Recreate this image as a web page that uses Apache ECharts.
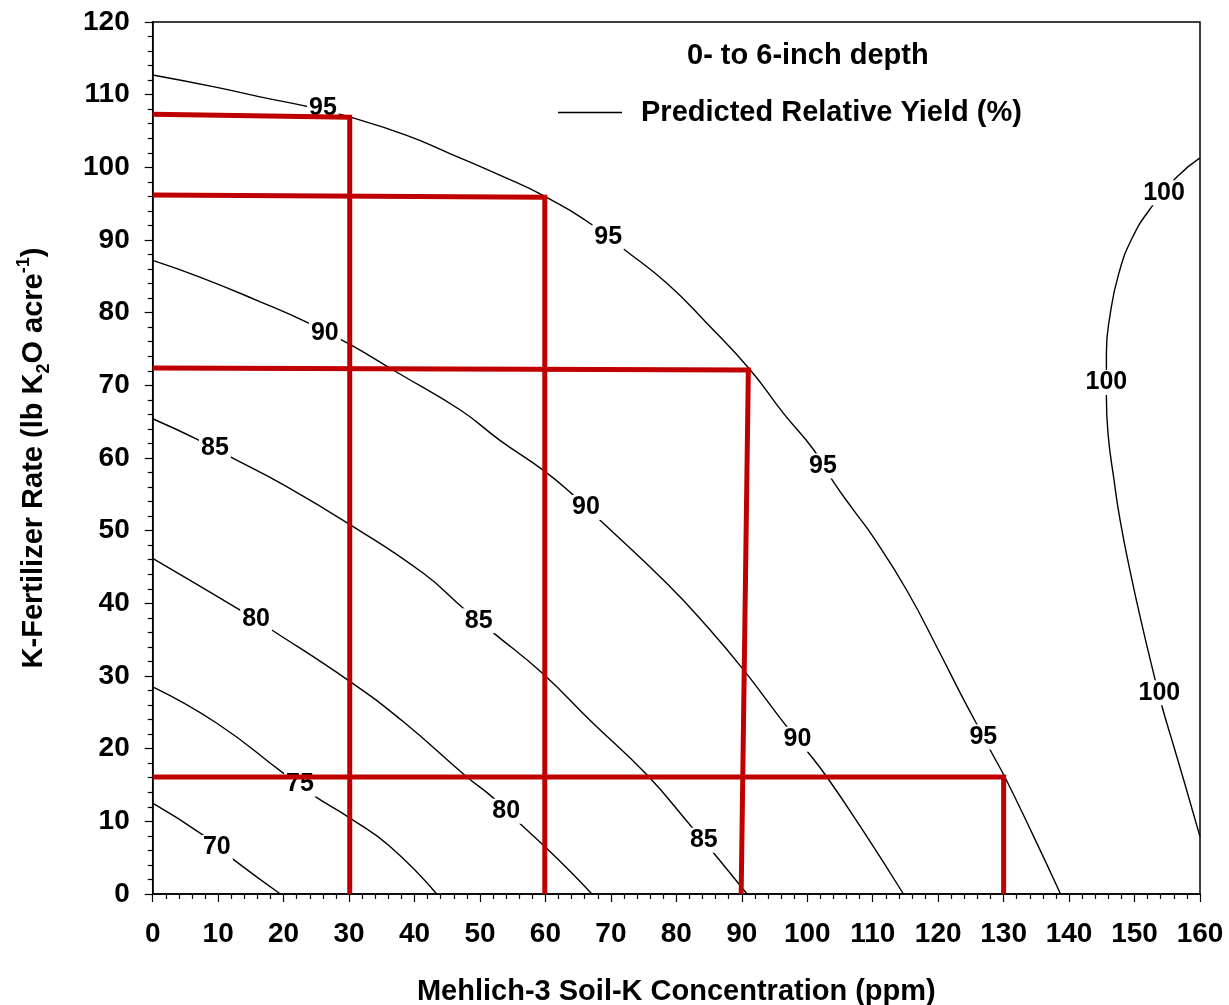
<!DOCTYPE html>
<html>
<head>
<meta charset="utf-8">
<title>Predicted Relative Yield — 0- to 6-inch depth</title>
<script src="https://cdn.jsdelivr.net/npm/echarts@6/dist/echarts.min.js"></script>
<style>
  html, body { margin: 0; padding: 0; background: #fff; }
  #chart { width: 1229px; height: 1005px; }
</style>
</head>
<body>
<div id="chart"></div>
<script>
// Soil-test K (ppm) vs K-fertilizer rate (lb K2O/acre) iso-yield contours
const xTicks = { min: 0, max: 160, step: 10 };
const yTicks = { min: 0, max: 120, step: 10 };

// Contour traces [soil K ppm, K2O rate]
const contour70 = [[0,12.5],[7.7,8.1],[12.1,4.9],[19.5,0]];
const contour75 = [[0,28.5],[9.8,23.5],[20.0,16.6],[24.5,13.6],[30.2,10.4],[36.3,6.5],[43.4,0]];
const contour80 = [[0,46.2],[13.3,39.1],[17.9,36.5],[30.2,29.2],[38.3,23.7],[48.0,16.1],[51.8,13.4],
                   [56.1,9.7],[59.7,6.7],[63.8,3.1],[67.1,0]];
const contour85 = [[0,65.4],[7.2,62.4],[11.8,60.2],[20.0,56.3],[30.2,50.8],[41.4,44.1],[47.5,39.3],
                   [52.1,35.9],[59.5,30.4],[66.8,23.9],[75.5,16.4],[82.1,9.5],[86.2,5.1],[90.8,0]];
const contour90 = [[0,87.2],[7.2,84.9],[15.9,81.7],[24.0,78.5],[30.2,75.6],[37.3,71.8],[47.0,66.6],
                   [53.1,62.4],[59.7,58.3],[64.0,55.1],[68.4,51.4],[78.6,42.7],[84.7,36.8],[90.3,30.8],
                   [96.9,23.0],[100.2,19.4],[103.0,16.1],[108.1,9.3],[114.7,0]];
const contour95 = [[0,112.7],[9.8,111.0],[16.4,109.7],[24.0,108.3],[30.2,106.9],[38.8,104.4],[45.4,101.9],
                   [53.1,98.9],[59.7,96.1],[67.3,92.0],[71.9,88.8],[78.6,84.0],[84.7,78.5],
                   [91.3,72.1],[96.4,66.1],[101.0,61.1],[104.0,56.7],[107.1,52.8],[110.1,49.1],
                   [115.2,41.8],[120.3,33.1],[123.4,27.6],[125.7,23.7],[128.2,19.4],[130.3,15.9],
                   [134.6,7.9],[138.7,0]];
const contour100 = [[160,101.3],[156.5,98.7],[152.4,94.3],[149.6,90.2],[147.6,85.4],[146.3,79.9],
                    [145.7,74.4],[145.7,68.4],[146.0,62.9],[146.8,57.4],[147.8,51.4],[149.4,44.1],
                    [151.2,36.8],[152.9,30.4],[154.2,25.8],[156.0,20.3],[157.8,14.8],[160,7.9]];

// Inline contour labels [x, y, level]
const contourLabels = [
  [26.0,108.2,'95'],[69.6,90.4,'95'],[102.4,58.9,'95'],[126.9,21.6,'95'],
  [26.3,77.2,'90'],[66.2,53.2,'90'],[98.5,21.3,'90'],
  [9.5,61.4,'85'],[49.8,37.6,'85'],[84.2,7.4,'85'],
  [15.8,37.8,'80'],[54.0,11.4,'80'],
  [22.5,15.1,'75'],
  [9.8,6.4,'70'],
  [154.5,96.5,'100'],[145.7,70.4,'100'],[153.8,27.7,'100']
];

// K rates needed for 95% yield at four soil-test levels
const guide30  = [[0,107.3],[30.1,106.9],[30.1,0]];
const guide60  = [[0,96.2],[59.9,95.9],[59.9,0]];
const guide90  = [[0,72.4],[91.0,72.1],[89.9,0]];
const guide130 = [[0,16.1],[130.0,16.1],[130.0,0]];

const FONT = '"Liberation Sans", Arial, Helvetica, sans-serif';
const SERIES_NAME = 'Predicted Relative Yield (%)';

const contours = [contour70, contour75, contour80, contour85, contour90, contour95, contour100];
const guides = [guide30, guide60, guide90, guide130];

const series = [];
contours.forEach(function (pts) {
  series.push({
    type: 'line', name: SERIES_NAME, data: pts,
    symbol: 'none', smooth: 0.5, silent: true, z: 2,
    itemStyle: { color: '#000' },
    lineStyle: { color: '#000', width: 1.4, opacity: 1 }
  });
});
series.push({
  type: 'scatter', name: 'labels', silent: true, z: 3,
  data: contourLabels.map(function (d) { return { value: [d[0], d[1]], text: d[2] }; }),
  symbolSize: 1, itemStyle: { color: '#fff', opacity: 1 },
  label: {
    show: true, position: 'inside', opacity: 1,
    formatter: function (p) { return p.data.text; },
    fontFamily: FONT, fontSize: 25, fontWeight: 'bold', color: '#000',
    textBorderWidth: 0, backgroundColor: '#fff', padding: [0, 2]
  },
  emphasis: { disabled: true }
});
guides.forEach(function (pts) {
  series.push({
    type: 'line', name: 'guide', data: pts,
    symbol: 'none', silent: true, z: 5,
    lineStyle: { color: '#c00000', width: 5, join: 'miter', cap: 'butt', opacity: 1 }
  });
});

const axisCommon = {
  axisLine: { show: true, onZero: false, lineStyle: { color: '#000', width: 1.5 } },
  axisTick: { show: true, inside: false, length: 8, lineStyle: { color: '#000', width: 1.2 } },
  minorTick: { show: true, splitNumber: 5, length: 5, lineStyle: { color: '#000', width: 1.2 } },
  splitLine: { show: false },
  minorSplitLine: { show: false }
};

const chart = echarts.init(document.getElementById('chart'), null, { renderer: 'canvas' });
chart.setOption({
  animation: false,
  backgroundColor: '#fff',
  title: {
    text: '0- to 6-inch depth',
    left: 682, top: 36,
    textStyle: { fontFamily: FONT, fontSize: 29, fontWeight: 'bold', color: '#000' }
  },
  legend: {
    data: [{ name: SERIES_NAME, icon: 'rect', itemStyle: { color: '#000' } }],
    left: 553, top: 93,
    itemWidth: 64, itemHeight: 1.5,
    selectedMode: false,
    textStyle: { fontFamily: FONT, fontSize: 29, fontWeight: 'bold', color: '#000', padding: [0, 0, 0, 14] }
  },
  grid: {
    left: 152.7, right: 29, top: 22, bottom: 111,
    show: true, borderColor: '#000', borderWidth: 1.5, backgroundColor: 'transparent',
    outerBoundsMode: 'none'
  },
  xAxis: Object.assign({
    type: 'value', min: xTicks.min, max: xTicks.max, interval: xTicks.step,
    name: 'Mehlich-3 Soil-K Concentration (ppm)',
    nameLocation: 'middle', nameGap: 83,
    nameTextStyle: { fontFamily: FONT, fontSize: 29, fontWeight: 'bold', color: '#000' },
    axisLabel: { margin: 26, fontFamily: FONT, fontSize: 28, fontWeight: 'bold', color: '#000' }
  }, axisCommon),
  yAxis: Object.assign({
    type: 'value', min: yTicks.min, max: yTicks.max, interval: yTicks.step,
    name: 'K-Fertilizer Rate (lb K{sub|2}O acre{sup|-1})',
    nameLocation: 'middle', nameGap: 100,
    nameTextStyle: {
      fontFamily: FONT, fontSize: 29, fontWeight: 'bold', color: '#000', lineHeight: 38,
      rich: {
        sub: { fontFamily: FONT, fontSize: 18, fontWeight: 'bold', color: '#000', lineHeight: 18, verticalAlign: 'bottom' },
        sup: { fontFamily: FONT, fontSize: 18, fontWeight: 'bold', color: '#000', lineHeight: 18, verticalAlign: 'top' }
      }
    },
    axisLabel: { margin: 23, fontFamily: FONT, fontSize: 28, fontWeight: 'bold', color: '#000' }
  }, axisCommon),
  tooltip: { show: false },
  series: series
});
</script>
</body>
</html>
